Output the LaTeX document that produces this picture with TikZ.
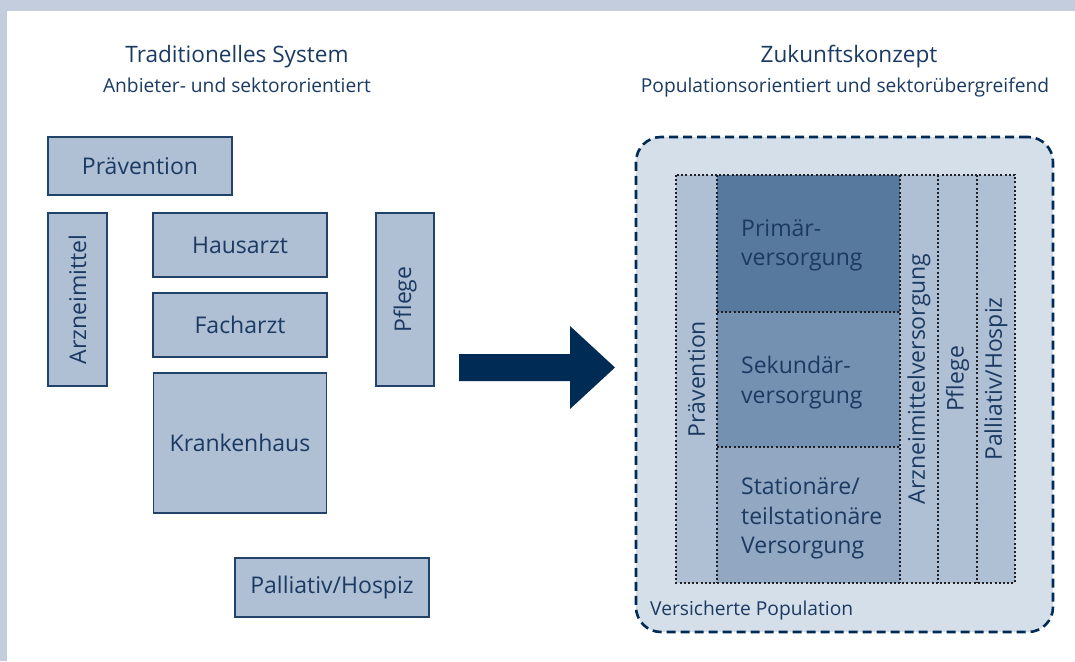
\documentclass[tikz,border=0pt]{standalone}
\usepackage{fontspec}
\setmainfont{Open Sans}
\definecolor{txt}{RGB}{27,58,98}
\definecolor{boxline}{RGB}{35,66,106}
\definecolor{boxfill}{RGB}{175,191,212}
\definecolor{band}{RGB}{195,205,222}
\definecolor{panelfill}{RGB}{213,223,233}
\definecolor{navy}{RGB}{0,43,85}
\definecolor{prim}{RGB}{88,121,158}
\definecolor{sek}{RGB}{117,145,177}
\definecolor{stat}{RGB}{145,167,194}
\definecolor{dotc}{RGB}{30,30,35}
\begin{document}
\begin{tikzpicture}[x=1pt,y=-1pt,
  oldbox/.style={draw=boxline, fill=boxfill, line width=1.2pt, inner sep=0pt, text=txt, font=\fontsize{23}{27}\selectfont},
  cell/.style={inner sep=0pt, text=txt, font=\fontsize{23}{27}\selectfont},
  celltext/.style={inner sep=0pt, text=txt, align=left, anchor=west, font=\fontsize{23}{29.5}\selectfont},
  title/.style={inner sep=0pt, text=txt, anchor=base, font=\fontsize{22.6}{26}\selectfont},
  subtitle/.style={inner sep=0pt, text=txt, anchor=base, font=\fontsize{19.2}{22}\selectfont},
  dotline/.style={draw=dotc, line width=2pt, dash pattern=on 2pt off 2.2pt}]
\useasboundingbox (0,0) rectangle (1075,661);
% frame band
\fill[band] (0,0) rectangle (1075,11);
\fill[band] (0,0) rectangle (7,661);

% headers
\node[title] (t1) at (237,63) {Traditionelles System};
\node[subtitle] (s1) at (237,92) {Anbieter- und sektororientiert};
\node[title] (t2) at (849,63) {Zukunftskonzept};
\node[subtitle] (s2) at (845,92) {Populationsorientiert und sektorübergreifend};

% traditional boxes
\node[oldbox, minimum width=184, minimum height=58] (praev) at (140,166) {Prävention};
\node[oldbox, rotate=90, minimum width=173, minimum height=59] (arz) at (77.5,299.5) {Arzneimittel};
\node[oldbox, minimum width=174, minimum height=64] (haus) at (240,245) {Hausarzt};
\node[oldbox, minimum width=174, minimum height=64] (fach) at (240,325) {Facharzt};
\node[oldbox, minimum width=173, minimum height=140] (kh) at (240,443) {Krankenhaus};
\node[oldbox, rotate=90, minimum width=173, minimum height=58] (pfl) at (405,299.5) {Pflege};
\node[oldbox, minimum width=194, minimum height=59] (pall) at (332,587.5) {Palliativ/Hospiz};

% arrow
\fill[navy] (459,354) -- (570,354) -- (570,326) -- (615,367.5) -- (570,409) -- (570,381) -- (459,381) -- cycle;

% panel
\node[draw=navy, line width=2.6pt, dash pattern=on 9pt off 5pt, rounded corners=25pt, fill=panelfill, inner sep=0pt, minimum width=417, minimum height=495] (panel) at (844.5,384.5) {};
\node[subtitle, anchor=base west] (vp) at (650,615) {Versicherte Population};

% columns
\node[cell, fill=boxfill, rotate=90, minimum width=408, minimum height=41] (pcol) at (696.5,379) {Prävention};
\node[cell, fill=prim, minimum width=183, minimum height=137] (primc) at (808.5,243.5) {};
\node[cell, fill=sek, minimum width=183, minimum height=135] (sekc) at (808.5,379.5) {};
\node[cell, fill=stat, minimum width=183, minimum height=136] (statc) at (808.5,515) {};
\node[cell, fill=boxfill, rotate=90, minimum width=408, minimum height=38] (acol) at (919,379) {Arzneimittelversorgung};
\node[cell, fill=boxfill, rotate=90, minimum width=408, minimum height=39] (fcol) at (957.5,379) {Pflege};
\node[cell, fill=boxfill, rotate=90, minimum width=408, minimum height=38] (hcol) at (996,379) {Palliativ/Hospiz};

\node[celltext] (primt) at (741,245.5) {Primär-\\versorgung};
\node[celltext] (sekt) at (741,382.5) {Sekundär-\\versorgung};
\node[celltext] (statt) at (741,518.5) {Stationäre/\\teilstationäre\\Versorgung};

% dotted grid
\draw[dotline] (676,175) rectangle (1015,583);
\draw[dotline] (primc.north west) -- (statc.south west);
\draw[dotline] (primc.north east) -- (statc.south east);
\draw[dotline] (938,175) -- (938,583);
\draw[dotline] (977,175) -- (977,583);
\draw[dotline] (primc.south west) -- (primc.south east);
\draw[dotline] (sekc.south west) -- (sekc.south east);
\end{tikzpicture}
\end{document}
